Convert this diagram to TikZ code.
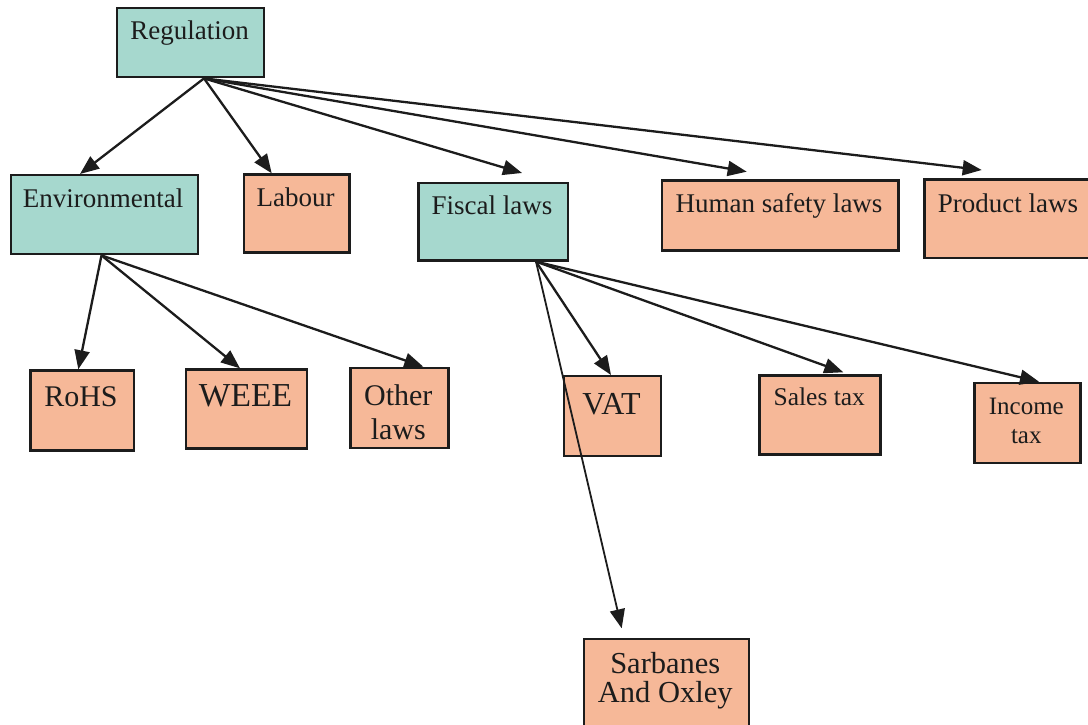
\documentclass[tikz,border=0pt]{standalone}
\usepackage{fontspec}
\setmainfont{Liberation Serif}
\usetikzlibrary{arrows.meta}

\definecolor{boxteal}{RGB}{166,216,206}
\definecolor{boxsalmon}{RGB}{246,184,152}
\definecolor{ink}{RGB}{28,28,28}

\tikzset{
  box/.style={draw=ink, line width=2.4pt, rectangle, inner sep=0pt, anchor=north west},
  tealbox/.style={box, fill=boxteal},
  salmonbox/.style={box, fill=boxsalmon},
  lbl/.style={anchor=base, inner sep=0pt, text=ink},
  fs/.style={font=\fontsize{#1}{#1}\selectfont},
  link/.style={draw=ink, line width=2.3pt, -{Triangle[length=19pt,width=15pt]}},
}

\begin{document}
\begin{tikzpicture}[x=1pt,y=-1pt]
\useasboundingbox (0,0) rectangle (1088,725);
\clip (0,0) rectangle (1088,725);
\fill[white] (0,0) rectangle (1088,725);

% top level
\node[tealbox, minimum width=147pt, minimum height=69pt] (reg) at (116,7) {};
\node[lbl, fs=27] (regT) at (189.5,40) {Regulation};

% second level
\node[tealbox, minimum width=187pt, minimum height=79pt] (env) at (9.5,174) {};
\node[lbl, fs=27] (envT) at (103.2,207) {Environmental};

\node[salmonbox, minimum width=105.6pt, minimum height=78pt] (lab) at (242.7,173.3) {};
\node[lbl, fs=27] (labT) at (295.5,206.5) {Labour};

\node[tealbox, minimum width=149.4pt, minimum height=77.5pt] (fis) at (417.3,181.7) {};
\node[lbl, fs=27] (fisT) at (492,214) {Fiscal laws};

\node[salmonbox, minimum width=236.6pt, minimum height=70pt] (hum) at (660.7,179.3) {};
\node[lbl, fs=27] (humT) at (779,212.5) {Human safety laws};

\node[salmonbox, minimum width=172pt, minimum height=78.4pt] (pro) at (923.3,178.3) {};
\node[lbl, fs=27] (proT) at (1008,212.5) {Product laws};

% environmental laws
\node[salmonbox, minimum width=103.4pt, minimum height=80pt] (rohs) at (29.3,369.3) {};
\node[lbl, fs=30] (rohsT) at (81,406) {RoHS};

\node[salmonbox, minimum width=121pt, minimum height=79pt] (weee) at (185,368.3) {};
\node[lbl, fs=33.5] (weeeT) at (245.5,406) {WEEE};

\node[salmonbox, minimum width=98pt, minimum height=80pt] (oth) at (349.3,366.7) {};
\node[lbl, fs=30] (othT1) at (398.3,405) {Other};
\node[lbl, fs=30] (othT2) at (398.3,439) {laws};

% fiscal laws
\node[salmonbox, minimum width=97pt, minimum height=80pt] (vat) at (563,375) {};
\node[lbl, fs=32] (vatT) at (611.5,414) {VAT};

\node[salmonbox, minimum width=121pt, minimum height=79pt] (sal) at (758.3,374.3) {};
\node[lbl, fs=25.5] (salT) at (819.3,405) {Sales tax};

\node[salmonbox, minimum width=106pt, minimum height=80pt] (inc) at (973.3,381.7) {};
\node[lbl, fs=25] (incT1) at (1026.3,414) {Income};
\node[lbl, fs=25] (incT2) at (1026.3,443) {tax};

\node[salmonbox, minimum width=165.3pt, minimum height=100pt] (sox) at (582.7,638) {};
\node[lbl, fs=30.5] (soxT1) at (665.3,673) {Sarbanes};
\node[lbl, fs=30.5] (soxT2) at (665.3,702) {And Oxley};

% branching points
\coordinate (regO) at ([xshift=88pt]reg.south west);
\coordinate (envO) at ([xshift=92pt]env.south west);
\coordinate (fisO) at ([xshift=118.7pt]fis.south west);

% connectors
\draw[link] (regO) -- ([xshift=70.5pt]env.north west);
\draw[link] (regO) -- ([xshift=29pt]lab.north west);
\draw[link] (regO) -- ([xshift=104.7pt,yshift=8.7pt]fis.north west);
\draw[link] (regO) -- ([xshift=86pt,yshift=7.6pt]hum.north west);
\draw[link] (regO) -- ([xshift=58.4pt,yshift=8.3pt]pro.north west);

\draw[link] (envO) -- ([xshift=49pt]rohs.north west);
\draw[link] (envO) -- ([xshift=55pt]weee.north west);
\draw[link] (envO) -- ([xshift=74pt]oth.north west);

\draw[link] (fisO) -- ([xshift=48pt]vat.north west);
\draw[link] (fisO) -- ([xshift=85pt,yshift=2pt]sal.north west);
\draw[link] (fisO) -- ([xshift=65.7pt]inc.north west);
\draw[link, line width=1.8pt] (fisO) -- ([xshift=39pt,yshift=9.7pt]sox.north west);
\end{tikzpicture}
\end{document}
